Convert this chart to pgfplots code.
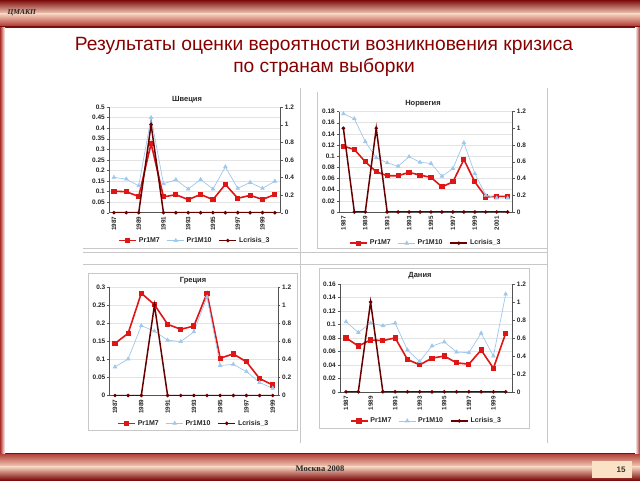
\documentclass[border=0pt]{standalone}
\usepackage{pgfplots}
\pgfplotsset{compat=1.18}
\usepackage{fontspec}
\setmainfont{Liberation Sans}
\newfontfamily\serifff{Liberation Serif}
\definecolor{pr7}{RGB}{222,22,22}
\definecolor{pr10}{RGB}{160,200,235}
\definecolor{lcr}{RGB}{105,0,0}
\definecolor{ttl}{RGB}{135,0,0}
\definecolor{bdark}{RGB}{125,12,12}
\definecolor{bpeach}{RGB}{245,208,188}
\definecolor{bred}{RGB}{170,45,40}
\definecolor{frame}{RGB}{200,200,200}
\definecolor{boxc}{RGB}{250,226,198}
\pgfplotsset{
  leftax/.style={scale only axis, axis x line*=bottom, axis y line*=left, ymin=0,
    tick align=outside, major tick length=2.5pt,
    yticklabel style={font=\bfseries\fontsize{6.5}{7}\selectfont, inner sep=1.5pt, text=black!85},
    xticklabel style={rotate=90, anchor=east, font=\bfseries\fontsize{6.3}{7}\selectfont, inner sep=1.5pt, text=black!85},
    x tick style={draw=none}, y tick style={gray!70!black},
    ymajorgrids, grid style={gray!22},
    axis line style={gray!65!black, line width=0.5pt},
    legend columns=3, legend cell align=left,
    legend style={draw=none, fill=none, font=\bfseries\fontsize{7}{8}\selectfont, text=black!85, anchor=center,
      /tikz/every even column/.append style={column sep=5pt}},
  },
  rightax/.style={scale only axis, axis x line=none, axis y line*=right, ymin=0, ymax=1.2,
    tick align=outside, major tick length=2.5pt,
    ytick={0,0.2,0.4,0.6,0.8,1,1.2}, yticklabels={0,0.2,0.4,0.6,0.8,1,1.2},
    yticklabel style={font=\bfseries\fontsize{6.5}{7}\selectfont, inner sep=1.5pt, text=black!85},
    y tick style={gray!70!black},
    axis line style={gray!65!black, line width=0.5pt},
  },
  p7/.style={pr7, line width=1.6pt, mark=square*, mark size=1.8pt},
  p10/.style={pr10, line width=0.7pt, mark=triangle*, mark size=2pt},
  lc/.style={lcr, line width=1.5pt, mark=*, mark size=0.9pt},
}
\begin{document}
\begin{tikzpicture}[x=1pt,y=1pt]
\path[use as bounding box, fill=white] (0,0) rectangle (640,480);
% top banner
\shade[top color=bdark, bottom color=bpeach] (0,466) rectangle (640,480);
\shade[top color=bpeach, bottom color=bred] (0,453) rectangle (640,466.1);
\fill[bdark] (0,452) rectangle (640,453.5);
% bottom banner
\fill[bdark] (0,25) rectangle (640,27);
\shade[top color=bred!80!bpeach, bottom color=bpeach] (0,13) rectangle (640,25.1);
\shade[top color=bpeach, bottom color=bdark] (0,0) rectangle (640,13.1);
% side borders
\shade[left color=bred, right color=white] (0,27) rectangle (5,452);
\shade[left color=white, right color=bred] (635,27) rectangle (640,452);
\node[anchor=west, font=\serifff\bfseries\itshape\fontsize{7.5}{8}\selectfont, text=black!85] at (4,467) {ЦМАКП};
\node[font=\serifff\bfseries\fontsize{8.5}{9}\selectfont, text=black!85] at (320,11) {Москва 2008};
\fill[boxc] (592,2.5) rectangle (632,19);
\node[anchor=east, font=\bfseries\fontsize{8}{9}\selectfont, text=black!80] at (629,10.5) {15};
% title
\node[text=ttl, font=\fontsize{19.2}{22}\selectfont] at (324,434) {Результаты оценки вероятности возникновения кризиса};
\node[text=ttl, font=\fontsize{19.2}{22}\selectfont] at (324,413) {по странам выборки};
% separators and frames
\draw[frame, line width=0.8pt] (300,392) -- (300,37);
\draw[frame, line width=0.6pt] (547,392) -- (547,37);
\draw[frame, line width=0.8pt] (83,228) -- (547,228);
\draw[frame, line width=0.8pt] (83,216) -- (547,216);
\draw[frame, line width=0.5pt] (83,232) -- (298,232);
\draw[frame, line width=0.5pt] (317,388) -- (317,232) -- (547,232);
\draw[frame, line width=0.5pt] (88,207) rectangle (297,50);
\draw[frame, line width=0.5pt] (319,212) rectangle (529,52);
% chart titles
\node[font=\bfseries\fontsize{7.5}{8}\selectfont, text=black!85] at (187,380) {Швеция};
\node[font=\bfseries\fontsize{7.5}{8}\selectfont, text=black!85] at (423,376) {Норвегия};
\node[font=\bfseries\fontsize{7.5}{8}\selectfont, text=black!85] at (193,199) {Греция};
\node[font=\bfseries\fontsize{7.5}{8}\selectfont, text=black!85] at (420,204) {Дания};

% ---------- Sweden ----------
\begin{axis}[leftax, at={(109pt,267.3pt)}, anchor=south west, width=171.7pt, height=105.7pt,
  xmin=1986.6, xmax=2000.47, ymax=0.5,
  ytick={0,0.05,0.1,0.15,0.2,0.25,0.3,0.35,0.4,0.45,0.5},
  yticklabels={0,0.05,0.1,0.15,0.2,0.25,0.3,0.35,0.4,0.45,0.5},
  xtick={1987,1989,1991,1993,1995,1997,1999},
  xticklabels={1987,1989,1991,1993,1995,1997,1999},
  legend style={at={(0.5,-0.264)}}]
\addplot[p7] coordinates {(1987,0.102)(1988,0.099)(1989,0.077)(1990,0.327)(1991,0.075)(1992,0.085)(1993,0.062)(1994,0.086)(1995,0.062)(1996,0.134)(1997,0.068)(1998,0.082)(1999,0.063)(2000,0.086)};
\addlegendentry{Pr1M7}
\addplot[p10] coordinates {(1987,0.167)(1988,0.159)(1989,0.127)(1990,0.45)(1991,0.137)(1992,0.156)(1993,0.112)(1994,0.157)(1995,0.112)(1996,0.217)(1997,0.115)(1998,0.143)(1999,0.115)(2000,0.149)};
\addlegendentry{Pr1M10}
\addlegendimage{lc}
\addlegendentry{Lcrisis\_3}
\end{axis}
\begin{axis}[rightax, at={(109pt,267.3pt)}, anchor=south west, width=171.7pt, height=105.7pt,
  xmin=1986.6, xmax=2000.47]
\addplot[lc] coordinates {(1987,0)(1988,0)(1989,0)(1990,1)(1991,0)(1992,0)(1993,0)(1994,0)(1995,0)(1996,0)(1997,0)(1998,0)(1999,0)(2000,0)};
\end{axis}

% ---------- Norway ----------
\begin{axis}[leftax, at={(339pt,268pt)}, anchor=south west, width=173.7pt, height=100.5pt,
  xmin=1986.6, xmax=2002.46, ymax=0.18,
  ytick={0,0.02,0.04,0.06,0.08,0.1,0.12,0.14,0.16,0.18},
  yticklabels={0,0.02,0.04,0.06,0.08,0.1,0.12,0.14,0.16,0.18},
  xtick={1987,1989,1991,1993,1995,1997,1999,2001},
  xticklabels={1987,1989,1991,1993,1995,1997,1999,2001},
  legend style={at={(0.5,-0.31)}}]
\addplot[p7] coordinates {(1987,0.118)(1988,0.112)(1989,0.09)(1990,0.072)(1991,0.065)(1992,0.065)(1993,0.071)(1994,0.066)(1995,0.062)(1996,0.045)(1997,0.054)(1998,0.094)(1999,0.054)(2000,0.027)(2001,0.028)(2002,0.028)};
\addlegendentry{Pr1M7}
\addplot[p10] coordinates {(1987,0.176)(1988,0.167)(1989,0.126)(1990,0.097)(1991,0.088)(1992,0.082)(1993,0.099)(1994,0.089)(1995,0.087)(1996,0.064)(1997,0.078)(1998,0.124)(1999,0.069)(2000,0.03)(2001,0.025)(2002,0.025)};
\addlegendentry{Pr1M10}
\addlegendimage{lc}
\addlegendentry{Lcrisis\_3}
\end{axis}
\begin{axis}[rightax, at={(339pt,268pt)}, anchor=south west, width=173.7pt, height=100.5pt,
  xmin=1986.6, xmax=2002.46]
\addplot[lc] coordinates {(1987,1)(1988,0)(1989,0)(1990,1)(1991,0)(1992,0)(1993,0)(1994,0)(1995,0)(1996,0)(1997,0)(1998,0)(1999,0)(2000,0)(2001,0)(2002,0)};
\end{axis}

% ---------- Greece ----------
\begin{axis}[leftax, at={(109.5pt,84.5pt)}, anchor=south west, width=168.5pt, height=108.5pt,
  xmin=1986.58, xmax=1999.4, ymax=0.3,
  ytick={0,0.05,0.1,0.15,0.2,0.25,0.3},
  yticklabels={0,0.05,0.1,0.15,0.2,0.25,0.3},
  xtick={1987,1989,1991,1993,1995,1997,1999},
  xticklabels={1987,1989,1991,1993,1995,1997,1999},
  legend style={at={(0.5,-0.257)}}]
\addplot[p7] coordinates {(1987,0.144)(1988,0.172)(1989,0.283)(1990,0.251)(1991,0.197)(1992,0.183)(1993,0.192)(1994,0.283)(1995,0.103)(1996,0.115)(1997,0.093)(1998,0.047)(1999,0.029)};
\addlegendentry{Pr1M7}
\addplot[p10] coordinates {(1987,0.079)(1988,0.101)(1989,0.193)(1990,0.178)(1991,0.153)(1992,0.149)(1993,0.176)(1994,0.272)(1995,0.083)(1996,0.086)(1997,0.066)(1998,0.036)(1999,0.02)};
\addlegendentry{Pr1M10}
\addlegendimage{lc}
\addlegendentry{Lcrisis\_3}
\end{axis}
\begin{axis}[rightax, at={(109.5pt,84.5pt)}, anchor=south west, width=168.5pt, height=108.5pt,
  xmin=1986.58, xmax=1999.4]
\addplot[lc] coordinates {(1987,0)(1988,0)(1989,0)(1990,1)(1991,0)(1992,0)(1993,0)(1994,0)(1995,0)(1996,0)(1997,0)(1998,0)(1999,0)};
\end{axis}

% ---------- Denmark ----------
\begin{axis}[leftax, at={(340pt,88.2pt)}, anchor=south west, width=172.7pt, height=107.8pt,
  xmin=1986.51, xmax=2000.57, ymax=0.16,
  ytick={0,0.02,0.04,0.06,0.08,0.1,0.12,0.14,0.16},
  yticklabels={0,0.02,0.04,0.06,0.08,0.1,0.12,0.14,0.16},
  xtick={1987,1989,1991,1993,1995,1997,1999},
  xticklabels={1987,1989,1991,1993,1995,1997,1999},
  legend style={at={(0.5,-0.27)}}]
\addplot[p7] coordinates {(1987,0.080)(1988,0.068)(1989,0.077)(1990,0.076)(1991,0.080)(1992,0.048)(1993,0.040)(1994,0.050)(1995,0.053)(1996,0.043)(1997,0.041)(1998,0.062)(1999,0.035)(2000,0.087)};
\addlegendentry{Pr1M7}
\addplot[p10] coordinates {(1987,0.104)(1988,0.088)(1989,0.102)(1990,0.098)(1991,0.102)(1992,0.062)(1993,0.045)(1994,0.068)(1995,0.074)(1996,0.059)(1997,0.058)(1998,0.087)(1999,0.053)(2000,0.145)};
\addlegendentry{Pr1M10}
\addlegendimage{lc}
\addlegendentry{Lcrisis\_3}
\end{axis}
\begin{axis}[rightax, at={(340pt,88.2pt)}, anchor=south west, width=172.7pt, height=107.8pt,
  xmin=1986.51, xmax=2000.57]
\addplot[lc] coordinates {(1987,0)(1988,0)(1989,1)(1990,0)(1991,0)(1992,0)(1993,0)(1994,0)(1995,0)(1996,0)(1997,0)(1998,0)(1999,0)(2000,0)};
\end{axis}
\end{tikzpicture}
\end{document}
